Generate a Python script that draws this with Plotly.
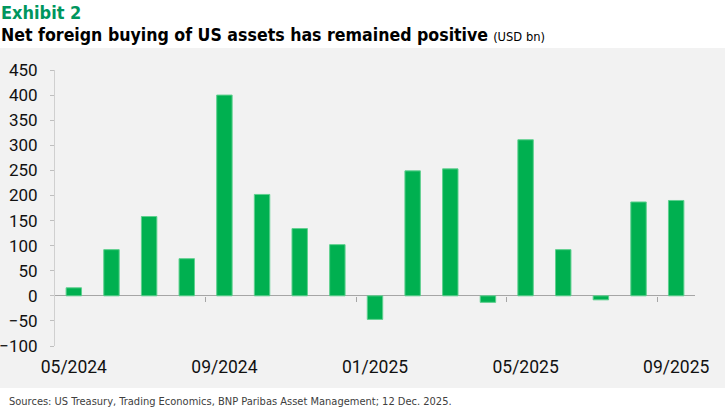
import plotly.graph_objects as go

# monthly net foreign buying, USD bn
months = ['05/2024', '06/2024', '07/2024', '08/2024', '09/2024', '10/2024',
          '11/2024', '12/2024', '01/2025', '02/2025', '03/2025', '04/2025',
          '05/2025', '06/2025', '07/2025', '08/2025', '09/2025']
net_buying = [16, 92, 158, 74, 400, 202, 134, 102, -47, 249, 253, -13,
              311, 92, -8, 187, 190]
y_ticks = [-100, -50, 0, 50, 100, 150, 200, 250, 300, 350, 400, 450]
label_months = months[::4]

W, H = 725, 410
L, R, T, B = 55, 30, 70, 64
pw, ph = W - L - R, H - T - B


#pixel -> paper coords
def px(x):
    return (x - L) / pw


def py(y):
    return (H - B - y) / ph


idx = list(range(len(months)))

fig = go.Figure()
fig.add_trace(go.Bar(x=idx, y=net_buying, width=0.41,
                     marker=dict(color='#00b050', line=dict(color='#5fd08f', width=1)),
                     showlegend=False))
#invisible trace so the axis at zero gets drawn
fig.add_trace(go.Scatter(x=[0], y=[0], mode='markers', xaxis='x2',
                         marker=dict(opacity=0), showlegend=False, hoverinfo='skip'))

font = 'Roboto, Arial'
cond = 'DejaVu Sans Condensed, Roboto, Arial'

fig.update_layout(
    width=W, height=H,
    margin=dict(l=L, r=R, t=T, b=B),
    paper_bgcolor='white',
    plot_bgcolor='#f2f2f2',
    font=dict(family=font, size=17.5, color='#111111'),
    xaxis=dict(range=[-0.5, len(months) - 0.5], tickvals=idx[::4], ticktext=label_months,
               showgrid=False, zeroline=False, showline=False, ticks='',
               ticklabelstandoff=8, automargin=False),
    xaxis2=dict(overlaying='x', matches='x', anchor='free',
                position=(0 - y_ticks[0]) / (y_ticks[-1] - y_ticks[0]),
                tickvals=[3.5, 7.5, 11.5, 15.5], showticklabels=False,
                ticks='outside', ticklen=5, tickcolor='#a6a6a6', tickwidth=1,
                showline=False, showgrid=False, zeroline=False, automargin=False),
    yaxis=dict(range=[y_ticks[0], y_ticks[-1]], tickvals=y_ticks,
               showgrid=False, zeroline=True, zerolinecolor='#a6a6a6', zerolinewidth=1,
               showline=True, linecolor='#d0d0d0', linewidth=1,
               ticks='outside', ticklen=4, tickcolor='#bfbfbf',
               ticklabelstandoff=9, tickfont=dict(size=17), automargin=False),
    shapes=[dict(type='rect', xref='paper', yref='paper', layer='below',
                 x0=px(0), x1=px(W), y0=py(388), y1=py(48),
                 fillcolor='#f2f2f2', line=dict(width=0))],
    annotations=[
        dict(text='<b>Exhibit 2</b>', xref='paper', yref='paper', x=px(-1), y=py(-0.5),
             xanchor='left', yanchor='top', showarrow=False,
             font=dict(family=cond, size=18, color='#00965e')),
        dict(text='<b>Net foreign buying of US assets has remained positive</b> '
                  '<span style="font-size:12.8px">(USD bn)</span>',
             xref='paper', yref='paper', x=px(-1), y=py(22.5),
             xanchor='left', yanchor='top', showarrow=False,
             font=dict(family=cond, size=17.6, color='#000000')),
        dict(text='Sources: US Treasury, Trading Economics, BNP Paribas Asset Management; 12 Dec. 2025.',
             xref='paper', yref='paper', x=px(7), y=py(401),
             xanchor='left', yanchor='middle', showarrow=False,
             font=dict(family=cond, size=11, color='#404040')),
    ],
)

#drop the page margin so the figure sits at the window corner
fig.write_html("out.html", config={'displayModeBar': False},
               post_script="document.body.style.margin='0';")
